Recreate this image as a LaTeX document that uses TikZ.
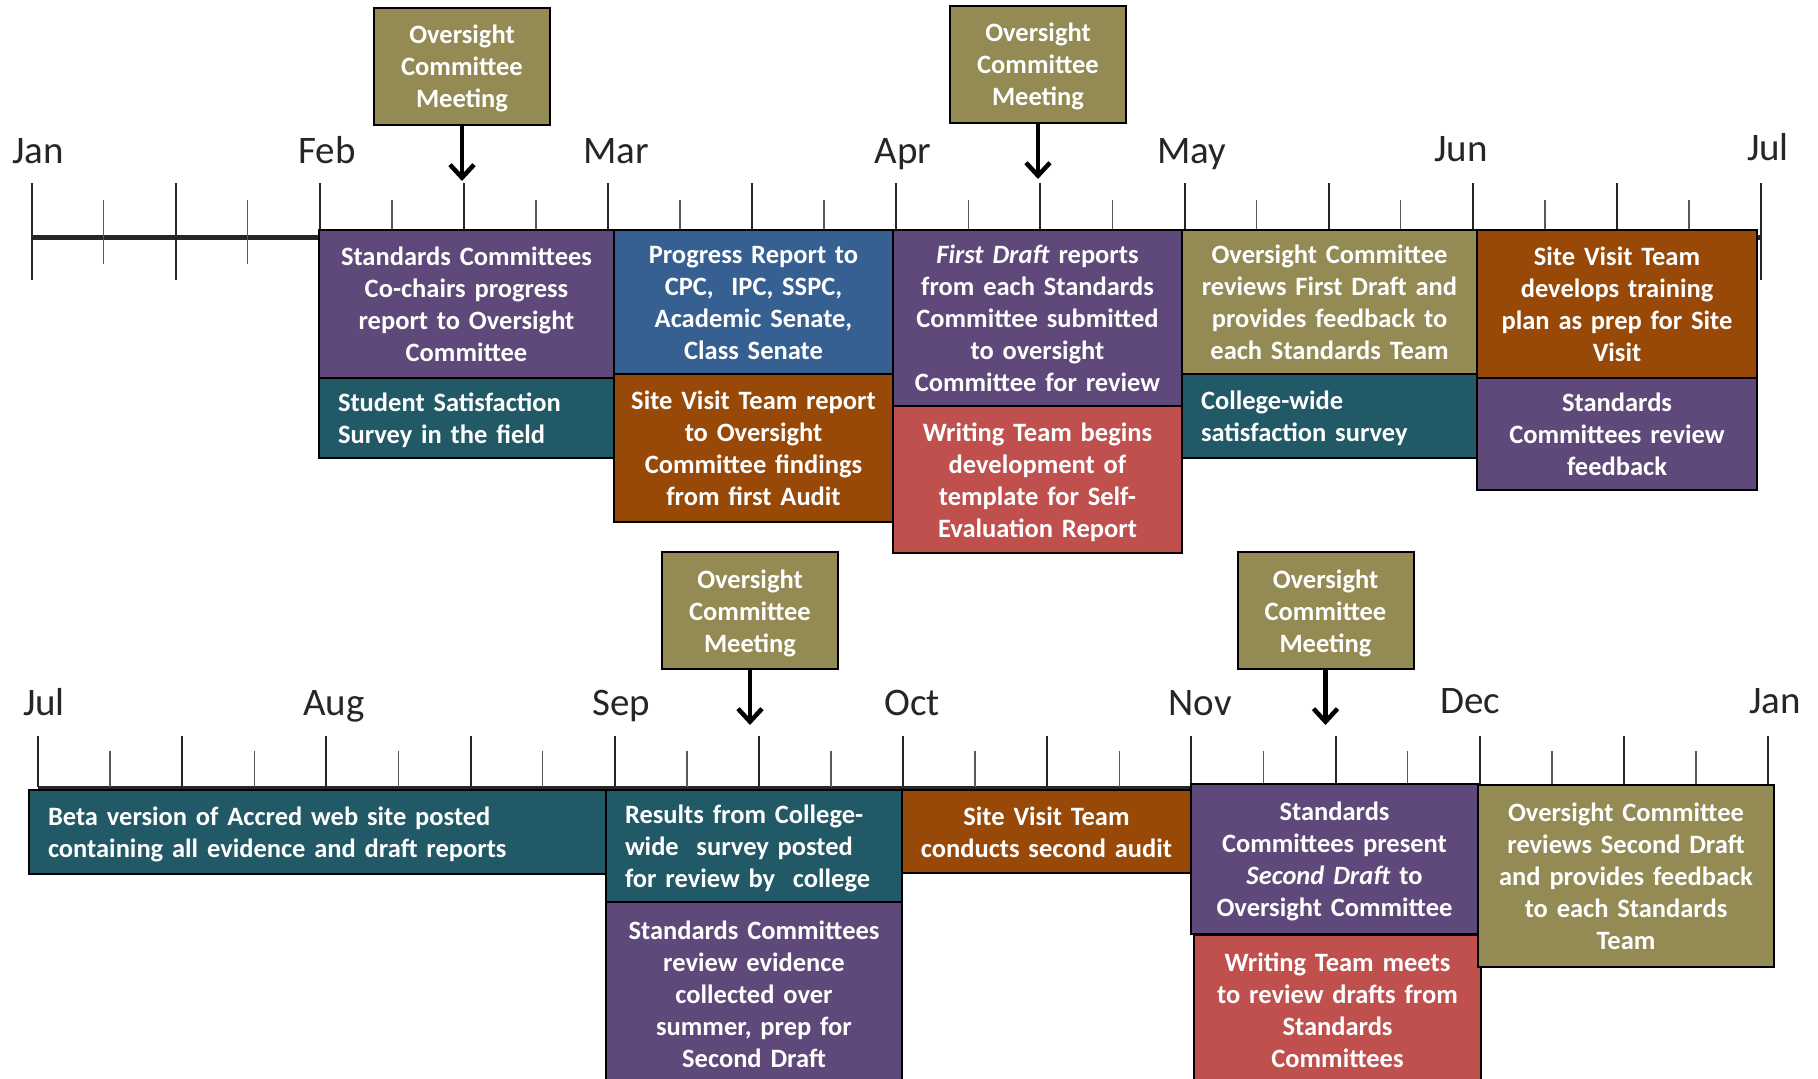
\documentclass[tikz,border=0pt]{standalone}
\usepackage{fontspec}
\setmainfont{Carlito}
\usetikzlibrary{arrows.meta}
\definecolor{cpurple}{HTML}{5F497A}
\definecolor{cblue}{HTML}{366092}
\definecolor{cteal}{HTML}{215967}
\definecolor{cbrown}{HTML}{984807}
\definecolor{colive}{HTML}{948A54}
\definecolor{cred}{HTML}{C0504D}
\definecolor{cmonth}{HTML}{262626}
\newcommand\boxfont{\bfseries\fontsize{26.5}{32}\selectfont}
\newcommand\monthfont{\fontsize{39}{44}\selectfont}
\tikzset{
  bx/.style={draw=black, line width=2pt, text=white, font=\boxfont, inner sep=0pt, align=center,
    execute at begin node={\noindent\rule{0pt}{27pt}},
    execute at end node={\rule[-7.4pt]{0pt}{7.4pt}}},
  lbx/.style={bx, align=left},
  meet/.style={bx, fill=colive, minimum width=176pt, minimum height=117pt, text width=168pt},
  month/.style={anchor=base, text=cmonth, font=\monthfont, inner sep=0pt},
  majtick/.style={line width=2pt, draw=black!85},
  mintick/.style={line width=1.5pt, draw=black!65},
  axisline/.style={line width=5pt, draw=black!85},
  axisline2/.style={line width=3pt, draw=black!85},
  downarrow/.style={line width=4.5pt, -{Straight Barb[length=13pt,width=24pt]}}
}
\begin{document}
\begin{tikzpicture}[x=1pt,y=-1pt]
\useasboundingbox (0,0) rectangle (1818,1079);
\clip (0,0) rectangle (1818,1079);
\fill[white] (0,0) rectangle (1818,1079);

% ---------- top timeline ----------
\draw[axisline] (31.5,237) -- (1761,237);
\foreach \i in {0,...,12} {
  \draw[majtick] ({31.5+\i*144.125},183) -- ({31.5+\i*144.125},280);
}
\foreach \i in {0,...,11} {
  \draw[mintick] ({103.56+\i*144.125},200) -- ({103.56+\i*144.125},264);
}
\node[month] (m1) at (38,163) {Jan};
\node[month] (m2) at (327,163) {Feb};
\node[month] (m3) at (616,163) {Mar};
\node[month] (m4) at (903,163) {Apr};
\node[month] (m5) at (1192,163) {May};
\node[month] (m6) at (1461,161) {Jun};
\node[month] (m7) at (1768,160) {Jul};

% ---------- bottom timeline ----------
\draw[axisline2] (38,787) -- (1768,787);
\foreach \i in {0,...,12} {
  \draw[majtick] ({38+\i*144.17},736) -- ({38+\i*144.17},787);
}
\foreach \i in {0,...,11} {
  \draw[mintick] ({110.08+\i*144.17},751) -- ({110.08+\i*144.17},787);
}
\node[month] (n1) at (44,715) {Jul};
\node[month] (n2) at (334,715) {Aug};
\node[month] (n3) at (621,715) {Sep};
\node[month] (n4) at (912,715) {Oct};
\node[month] (n5) at (1200,715) {Nov};
\node[month] (n6) at (1470,713) {Dec};
\node[month] (n7) at (1775,713) {Jan};

% ---------- top row boxes ----------
\node[bx, fill=cpurple, minimum width=295pt, minimum height=148pt, text width=287pt] (a1) at (466.5,304)
  {Standards Committees\\Co-chairs progress\\report to Oversight\\Committee};
\node[lbx, fill=cteal, minimum width=295pt, minimum height=80pt, text width=257pt] (a2) at (466.5,418)
  {Student Satisfaction\\Survey in the field};
\node[bx, fill=cblue, minimum width=279pt, minimum height=144pt, text width=271pt] (b1) at (753.5,302)
  {Progress Report to\\CPC,\ \ IPC, SSPC,\\Academic Senate,\\Class Senate};
\node[bx, fill=cbrown, minimum width=279pt, minimum height=148pt, text width=271pt] (b2) at (753.5,448)
  {Site Visit Team report\\to Oversight\\Committee findings\\from first Audit};
\node[bx, fill=cpurple, minimum width=289pt, minimum height=176pt, text width=281pt] (c1) at (1037.5,318)
  {\textit{First Draft} reports\\from each Standards\\Committee submitted\\to oversight\\Committee for review};
\node[bx, fill=cred, minimum width=289pt, minimum height=147pt, text width=281pt] (c2) at (1037.5,479.5)
  {Writing Team begins\\development of\\template for Self-\\Evaluation Report};
\node[bx, fill=colive, minimum width=295pt, minimum height=144pt, text width=287pt] (d1) at (1329.5,302)
  {Oversight Committee\\reviews First Draft and\\provides feedback to\\each Standards Team};
\node[lbx, fill=cteal, minimum width=295pt, minimum height=84pt, text width=257pt] (d2) at (1329.5,416)
  {College-wide\\satisfaction survey};
\node[bx, fill=cbrown, minimum width=280pt, minimum height=148pt, text width=272pt] (e1) at (1617,304)
  {Site Visit Team\\develops training\\plan as prep for Site\\Visit};
\node[bx, fill=cpurple, minimum width=280pt, minimum height=112pt, text width=272pt] (e2) at (1617,434)
  {Standards\\Committees review\\feedback};

% ---------- bottom row boxes ----------
\node[lbx, fill=cteal, minimum width=577pt, minimum height=84pt, text width=539pt] (f1) at (317.5,832)
  {Beta version of Accred web site posted\\containing all evidence and draft reports};
\node[lbx, fill=cteal, minimum width=296pt, minimum height=112pt, text width=258pt] (g1) at (754,846)
  {Results from College-\\wide\ \ survey posted\\for review by\ \ college};
\node[bx, fill=cpurple, minimum width=296pt, minimum height=183pt, text width=288pt] (g2) at (754,993.5)
  {Standards Committees\\review evidence\\collected over\\summer, prep for\\Second Draft};
\node[bx, fill=cbrown, minimum width=289pt, minimum height=83pt, text width=281pt] (h1) at (1046.5,831.5)
  {Site Visit Team\\conducts second audit};
\node[bx, fill=cpurple, minimum width=287pt, minimum height=150pt, text width=279pt] (i1) at (1334.5,859)
  {Standards\\Committees present\\\textit{Second Draft} to\\Oversight Committee};
\node[bx, fill=cred, minimum width=287pt, minimum height=150pt, text width=279pt] (i2) at (1337.5,1010)
  {Writing Team meets\\to review drafts from\\Standards\\Committees};
\node[bx, fill=colive, minimum width=296pt, minimum height=182pt, text width=288pt] (j1) at (1626,876)
  {Oversight Committee\\reviews Second Draft\\and provides feedback\\to each Standards\\Team};

% ---------- oversight meetings ----------
\node[meet] (o1) at (462,66) {Oversight\\Committee\\Meeting};
\node[meet] (o2) at (1038,64) {Oversight\\Committee\\Meeting};
\node[meet] (o3) at (750,610.5) {Oversight\\Committee\\Meeting};
\node[meet] (o4) at (1325.5,610.5) {Oversight\\Committee\\Meeting};
\coordinate (t1) at (462,181);
\coordinate (t2) at (1038,179);
\coordinate (t3) at (750,725);
\coordinate (t4) at (1325.5,725);
\draw[downarrow] (o1.south) -- (t1);
\draw[downarrow] (o2.south) -- (t2);
\draw[downarrow] (o3.south) -- (t3);
\draw[downarrow] (o4.south) -- (t4);
\end{tikzpicture}
\end{document}
